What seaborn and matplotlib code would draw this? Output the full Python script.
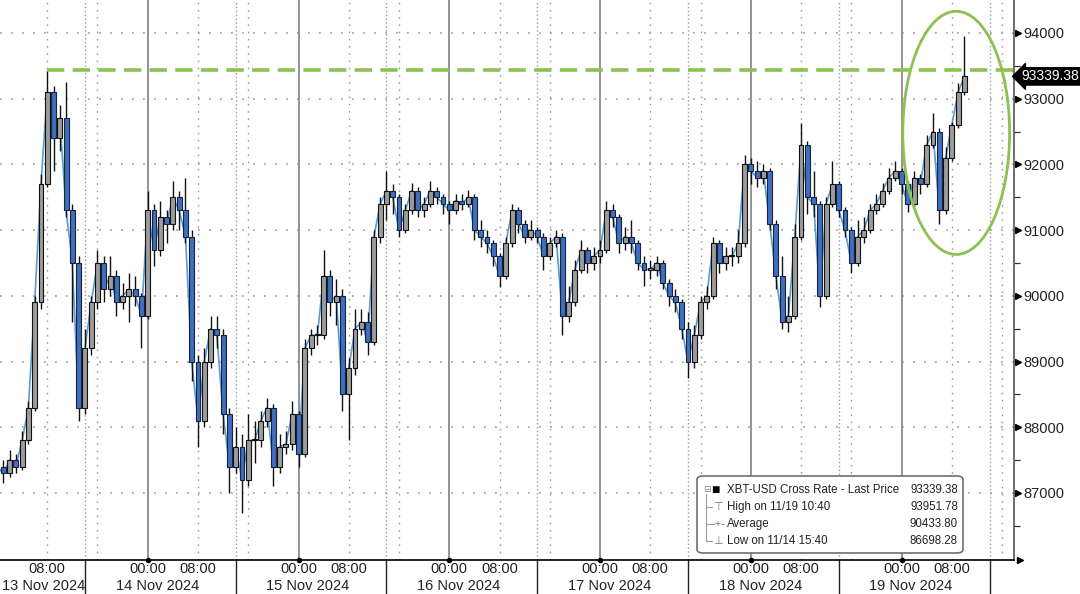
import numpy as np
import pandas as pd
import seaborn as sns
import matplotlib.pyplot as plt
import matplotlib.transforms as mtransforms
from matplotlib.patches import Ellipse, FancyBboxPatch
from matplotlib.lines import Line2D

# hourly candles, 13 Nov 00:00 -> 19 Nov 10:00
close = [87400, 87300, 87500, 87400, 87800, 88300, 89900, 91700, 93100, 92400, 92700, 91300,
         90500, 88300, 89200, 89900, 90500, 90100, 90300, 89900, 90000, 90100, 90000, 89700,
         91300, 90700, 91200, 91100, 91500, 91300, 90900, 89000, 88100, 89000, 89500, 89400,
         88200, 87400, 87700, 87200, 87800, 87800, 88100, 88300, 87400, 87700, 87750, 88200,
         87600, 89200, 89400, 89400, 90300, 89900, 90000, 88500, 88900, 89500, 89600, 89300,
         90900, 91400, 91600, 91500, 91000, 91300, 91600, 91300, 91400, 91600, 91500, 91400,
         91300, 91450, 91400, 91500, 91000, 90900, 90800, 90600, 90300, 90800, 91300, 91100,
         90900, 91000, 90900, 90600, 90800, 90900, 89700, 89900, 90400, 90700, 90500, 90600,
         90700, 91300, 91200, 90800, 90900, 90800, 90500, 90400, 90400, 90500, 90200, 90000,
         89900, 89500, 89000, 89400, 89900, 90000, 90800, 90500, 90600, 90600, 90800, 92000,
         91900, 91800, 91900, 91100, 90300, 89600, 89700, 90900, 92300, 91500, 91400, 90000,
         91400, 91700, 91300, 91000, 90500, 90900, 91000, 91300, 91400, 91600, 91800, 91900,
         91700, 91400, 91800, 91700, 92300, 92500, 91300, 92100, 92600, 93100, 93339.38]
high = [87600, 87500, 87650, 87600, 87950, 88400, 90000, 91850, 93434, 93200, 92900, 93250,
        91400, 90600, 89500, 90000, 90700, 90600, 90600, 90400, 90200, 90350, 90300, 90050,
        91600, 91400, 91450, 91300, 91750, 91600, 91800, 91000, 89100, 89200, 89700, 89700,
        89500, 88300, 88000, 87900, 88200, 88100, 88250, 88450, 88350, 87900, 87950, 88400,
        88250, 89350, 89500, 89550, 90700, 90400, 90250, 90100, 89050, 89800, 89800, 89750,
        91000, 91500, 91900, 91700, 91550, 91400, 91720, 91650, 91500, 91750, 91650, 91550,
        91450, 91550, 91550, 91610, 91550, 91150, 91000, 90850, 90650, 90900, 91400, 91350,
        91150, 91150, 91050, 90950, 90900, 91000, 90950, 90150, 90550, 90850, 90750, 90750,
        90850, 91450, 91400, 91250, 91050, 91150, 90850, 90600, 90550, 90600, 90550, 90250,
        90100, 89950, 89600, 89550, 90000, 90150, 90900, 90850, 90750, 90750, 91000, 92150,
        92100, 92050, 92000, 91950, 91150, 90600, 90000, 91100, 92630, 92350, 91900, 91450,
        91500, 92050, 91750, 91350, 91050, 91150, 91200, 91400, 91550, 91720, 91950, 92050,
        91950, 91750, 91900, 91850, 92450, 92780, 92550, 92270, 92650, 93240, 93951.78]
low = [87200, 87150, 87250, 87300, 87350, 87750, 88250, 89800, 91650, 91900, 92200, 91200,
       89600, 88100, 88200, 89100, 89800, 89900, 90000, 89700, 89800, 89600, 89850, 89200,
       89650, 90450, 90600, 90800, 91000, 91000, 90800, 88700, 87700, 88000, 88900, 89200,
       87900, 87000, 87300, 86698.28, 87100, 87450, 87700, 88000, 87100, 87300, 87600, 87650,
       87400, 87550, 89100, 89250, 89350, 89700, 89550, 88250, 87800, 88800, 89400, 89100,
       89250, 90800, 91150, 91250, 90900, 90950, 91250, 91200, 91200, 91350, 91400, 91250,
       91100, 91250, 91300, 91350, 90850, 90750, 90650, 90450, 90130, 90250, 90750, 90950,
       90800, 90850, 90800, 90400, 90550, 90750, 89400, 89600, 89850, 90350, 90350, 90400,
       90500, 90650, 91050, 90650, 90700, 90650, 90400, 90150, 90250, 90300, 90100, 89850,
       89750, 89350, 88750, 88900, 89350, 89800, 89950, 90350, 90400, 90450, 90500, 90750,
       91700, 91650, 91700, 91000, 90100, 89500, 89450, 89650, 90850, 91250, 91200, 89830,
       89950, 91350, 91200, 90900, 90350, 90450, 90800, 90950, 91250, 91350, 91550, 91750,
       91550, 91280, 91350, 91550, 91650, 92250, 91100, 91250, 92050, 92550, 93050]
first_open = 87300

day_labels = ["13 Nov 2024", "14 Nov 2024", "15 Nov 2024", "16 Nov 2024",
              "17 Nov 2024", "18 Nov 2024", "19 Nov 2024"]
y_ticks = [87000, 88000, 89000, 90000, 91000, 92000, 93000, 94000]
prev_high = 93430
last_price = 93339.38
legend_rows = [("XBT-USD Cross Rate - Last Price", "93339.38"),
               ("High on 11/19 10:40", "93951.78"),
               ("Average", "90433.80"),
               ("Low on 11/14 15:40", "86698.28")]

df = pd.DataFrame({"hour": np.arange(len(close)), "close": close, "high": high, "low": low})
df["open"] = df["close"].shift(1).fillna(first_open)
df["up"] = df["close"] >= df["open"]
df["body_lo"] = df[["open", "close"]].min(axis=1)
df["body_h"] = (df["close"] - df["open"]).abs().clip(lower=25)

sns.set_theme(style="white")
plt.rcParams['font.family'] = ['Liberation Sans', 'DejaVu Sans']

fig = plt.figure(figsize=(10.8, 5.94), dpi=100)
ax = fig.add_axes([0, 34 / 594, 1014 / 1080, 560 / 594])
x_end = 161.9
ax.set_xlim(0.48, x_end)
ax.set_ylim(85980, 94502)

grid_c = "#9a9a9a"
for y in y_ticks:
    ax.axhline(y, color=grid_c, lw=1.1, ls=(0, (1.2, 6)), zorder=1)
for d in range(7):
    for hh, style in [(8, (0, (1.2, 4))), (16, (0, (1.2, 4))), (14, (0, (1, 1.8)))]:
        ax.axvline(24 * d + hh, color=grid_c, lw=1.0, ls=style, zorder=1)
    if d > 0:
        ax.axvline(24 * d, color="#8a8a8a", lw=1.3, zorder=1)

# close line + candles
sns.lineplot(x=df["hour"], y=df["close"], ax=ax, color="#5b9bd5", lw=1.2, zorder=2)
ax.vlines(df["hour"], df["low"], df["high"], color="#111111", lw=1.0, zorder=3)
up = df[df["up"]]
dn = df[~df["up"]]
ax.bar(up["hour"], up["body_h"], bottom=up["body_lo"], width=0.78,
       color="#9c9c9c", edgecolor="#111111", lw=0.8, zorder=4)
ax.bar(dn["hour"], dn["body_h"], bottom=dn["body_lo"], width=0.78,
       color="#3f6fbd", edgecolor="#16233f", lw=0.8, zorder=4)

# previous high and circle
green = "#8cc152"
ax.hlines(prev_high, 8, x_end, color=green, lw=2.6, ls=(0, (4.8, 2.3)), zorder=5)
ax.add_patch(Ellipse((152.7, 92480), 17.0, 3700, fill=False, edgecolor=green, lw=2.0, zorder=6))

# spines
for s in ["top", "left"]:
    ax.spines[s].set_visible(False)
ax.spines["right"].set_color("#555555")
ax.spines["right"].set_linewidth(1.2)
ax.spines["bottom"].set_color("black")
ax.spines["bottom"].set_linewidth(1.2)

# y axis on the right
ax.yaxis.tick_right()
ax.set_yticks(y_ticks)
ax.set_yticklabels([str(v) for v in y_ticks], fontsize=10.5, color="#222222")
ax.set_yticks([v + 500 for v in y_ticks[:-1]] + [86500], minor=True)
ax.tick_params(axis="y", which="major", length=0, pad=7)
ax.tick_params(axis="y", which="minor", length=4, width=0.9, color="#333333", direction="out")
ax.set_ylabel("")
blend_y = mtransforms.blended_transform_factory(ax.transAxes, ax.transData)
ax.plot([1.004] * len(y_ticks), y_ticks, ls="none", marker=">", ms=4.5, color="black",
        transform=blend_y, clip_on=False)

# x axis
xt, xl = [], []
for d in range(7):
    if d > 0:
        xt.append(24 * d)
        xl.append("00:00")
    xt.append(24 * d + 8)
    xl.append("08:00")
ax.set_xticks(xt)
ax.set_xticklabels(xl, fontsize=10.5, color="#222222")
ax.set_xticks(np.arange(2, x_end, 2), minor=True)
ax.tick_params(axis="x", which="major", length=0, pad=1.5)
ax.tick_params(axis="x", which="minor", length=4, width=0.8, color="#333333", direction="inout")
ax.set_xlabel("")
blend_x = mtransforms.blended_transform_factory(ax.transData, ax.transAxes)
ax.plot([24 * d for d in range(1, 7)], [0] * 6, ls="none", marker="o", ms=3, color="black",
        transform=blend_x, clip_on=False, zorder=7)
ax.plot([1.006], [0], ls="none", marker=">", ms=5, color="black",
        transform=ax.transAxes, clip_on=False)
for d in range(7):
    ax.plot([24 * d + 14] * 2, [0, -0.07], color="#222222", lw=1.0,
            transform=blend_x, clip_on=False)
for d, lab in enumerate(day_labels):
    if d == 0:
        ax.text(0.002, -0.046, lab, transform=ax.transAxes, ha="left", va="center",
                fontsize=10.5, color="#222222")
    else:
        ax.text(24 * d + 1.5, -0.046, lab, transform=blend_x, ha="center", va="center",
                fontsize=10.5, color="#222222")

# last price tag
ax.text(1.0075, last_price, f"{last_price:.2f}", transform=blend_y, ha="left", va="center",
        fontsize=10, color="white", clip_on=False,
        bbox=dict(boxstyle="larrow,pad=0.12", fc="black", ec="black"))

# legend box
W, H = 1080, 594
def fx(px):
    return px / W
def fy(py):
    return 1 - py / H

fig.patches.append(FancyBboxPatch((fx(697), fy(553)), fx(963) - fx(697), fy(476) - fy(553),
                                  boxstyle="round,pad=0,rounding_size=0.006",
                                  transform=fig.transFigure, fc="white", ec="#6f6f6f",
                                  lw=1.2, zorder=10))
rows_y = [490, 507, 524, 541]
fig.lines.append(Line2D([fx(706), fx(706)], [fy(494), fy(541)], color="#9a9a9a", lw=0.8,
                        transform=fig.transFigure, zorder=11))
for ry in rows_y[1:]:
    fig.lines.append(Line2D([fx(706), fx(712)], [fy(ry), fy(ry)], color="#9a9a9a", lw=0.8,
                            transform=fig.transFigure, zorder=11))
fig.text(fx(703), fy(490), "⊟", fontsize=6.5, color="#888888", va="center", ha="left", zorder=12)
fig.text(fx(711), fy(490), "■", fontsize=10, color="black", va="center", ha="left", zorder=12)
icons = ["⊤", "-+-", "⊥"]
for ry, ic in zip(rows_y[1:], icons):
    fig.text(fx(718), fy(ry), ic, fontsize=8, color="#777777", va="center", ha="center",
             zorder=12)
for ry, (lab, val) in zip(rows_y, legend_rows):
    fig.text(fx(727), fy(ry), lab, fontsize=8.3, color="#222222", va="center", ha="left",
             zorder=12)
    fig.text(fx(958), fy(ry), val, fontsize=8.3, color="#222222", va="center", ha="right",
             zorder=12)

fig.savefig("out.png", dpi=100)
